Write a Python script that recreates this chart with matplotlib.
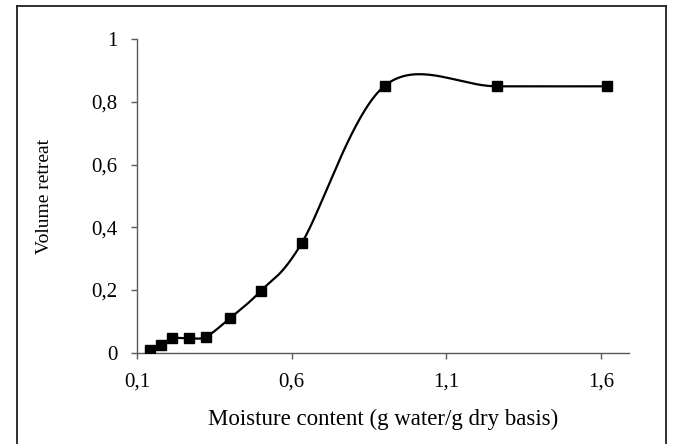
import numpy as np
import matplotlib
matplotlib.use("Agg")
import matplotlib.pyplot as plt
from matplotlib.lines import Line2D

# Data
moisture = [0.142, 0.178, 0.212, 0.267, 0.323, 0.40, 0.50, 0.632, 0.901, 1.262, 1.62]
volume_retreat = [0.009, 0.025, 0.046, 0.046, 0.051, 0.11, 0.197, 0.349, 0.852, 0.85, 0.85]
x_ticks = [0.1, 0.6, 1.1, 1.6]
x_tick_labels = ["0,1", "0,6", "1,1", "1,6"]
y_ticks = [0, 0.2, 0.4, 0.6, 0.8, 1.0]
y_tick_labels = ["0", "0,2", "0,4", "0,6", "0,8", "1"]


def excel_smooth(xs, ys, n=40):
    """Excel-style smoothed line: cubic Bezier with 1/6 neighbour tangents."""
    xs = np.asarray(xs, float)
    ys = np.asarray(ys, float)
    px = np.concatenate([[xs[0]], xs, [xs[-1]]])
    py = np.concatenate([[ys[0]], ys, [ys[-1]]])
    outx, outy = [], []
    t = np.linspace(0, 1, n)
    for i in range(1, len(px) - 2):
        p0x, p1x, p2x, p3x = px[i - 1], px[i], px[i + 1], px[i + 2]
        p0y, p1y, p2y, p3y = py[i - 1], py[i], py[i + 1], py[i + 2]
        c1x = p1x + (p2x - p0x) / 6
        c1y = p1y + (p2y - p0y) / 6
        c2x = p2x - (p3x - p1x) / 6
        c2y = p2y - (p3y - p1y) / 6
        bx = (1 - t) ** 3 * p1x + 3 * (1 - t) ** 2 * t * c1x + 3 * (1 - t) * t ** 2 * c2x + t ** 3 * p2x
        by = (1 - t) ** 3 * p1y + 3 * (1 - t) ** 2 * t * c1y + 3 * (1 - t) * t ** 2 * c2y + t ** 3 * p2y
        outx.extend(bx)
        outy.extend(by)
    return np.array(outx), np.array(outy)


plt.rcParams["font.family"] = ["Liberation Serif", "DejaVu Serif"]

W, H = 673, 444
fig = plt.figure(figsize=(W / 100, H / 100), dpi=100)
ax = fig.add_axes([137 / W, 1 - 352.7 / H, (629 - 137) / W, (352.7 - 39.3) / H])

sx, sy = excel_smooth(moisture, volume_retreat)
ax.plot(sx, sy, color="black", lw=1.6, solid_capstyle="round", zorder=2)
ax.plot(moisture, volume_retreat, ls="none", marker="s", ms=7.6,
        mfc="black", mec="black", zorder=3)

ax.set_xlim(0.1, 1.69)
ax.set_ylim(0, 1)
ax.set_xticks(x_ticks)
ax.set_xticklabels(x_tick_labels)
ax.set_yticks(y_ticks)
ax.set_yticklabels(y_tick_labels)

axis_color = "#5a5a5a"
for side in ["top", "right"]:
    ax.spines[side].set_visible(False)
for side in ["left", "bottom"]:
    ax.spines[side].set_color(axis_color)
    ax.spines[side].set_linewidth(1.0)

ax.tick_params(axis="both", direction="out", length=4, width=1.0, color=axis_color,
               labelsize=15, labelcolor="black")
ax.tick_params(axis="y", pad=10)
ax.tick_params(axis="x", pad=10)

ax.set_xlabel("Moisture content (g water/g dry basis)", fontsize=16.5, labelpad=13)
ax.set_ylabel("Volume retreat", fontsize=14)
ax.yaxis.set_label_coords(53 / W, 1 - 196 / H, transform=fig.transFigure)

# Outer frame (top, left, right; bottom cut off)
bl, br, bt = 16.5 / W, 666 / W, 1 - 6.5 / H
fig.add_artist(Line2D([bl, bl], [0, bt], transform=fig.transFigure, color="#202020", lw=1.3))
fig.add_artist(Line2D([br, br], [0, bt], transform=fig.transFigure, color="#202020", lw=1.3))
fig.add_artist(Line2D([bl, br], [bt, bt], transform=fig.transFigure, color="#202020", lw=1.3))

fig.savefig("out.png", dpi=100)
